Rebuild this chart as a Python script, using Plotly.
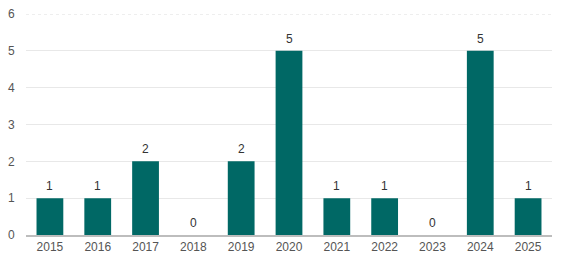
import plotly.graph_objects as go

years = ["2015", "2016", "2017", "2018", "2019", "2020", "2021", "2022", "2023", "2024", "2025"]
counts = [1, 1, 2, 0, 2, 5, 1, 1, 0, 5, 1]
y_ticks = [0, 1, 2, 3, 4, 5, 6]

bar_color = "#006865"
font_family = "Liberation Sans, Arial, sans-serif"

fig = go.Figure(go.Bar(
    x=years, y=counts,
    marker=dict(color=bar_color, line=dict(width=0)),
    hoverinfo="x+y",
))

# value labels above bars (category index positions on the category axis)
for i, v in enumerate(counts):
    fig.add_annotation(
        x=i, y=v, text=str(v), showarrow=False,
        xref="x", yref="y", yanchor="bottom", yshift=3,
        font=dict(color="#333333", size=12, family=font_family),
    )

fig.update_layout(
    width=567, height=265,
    margin=dict(l=26, r=15, t=14, b=30, autoexpand=False),
    paper_bgcolor="white", plot_bgcolor="white",
    bargap=0.44,
    showlegend=False,
    font=dict(family=font_family, size=12, color="#555555"),
    xaxis=dict(
        type="category", categoryorder="array", categoryarray=years,
        range=[-0.5, len(years) - 0.5], automargin=False,
        showline=True, linecolor="#bdbdbd", linewidth=2,
        showgrid=False, ticks="",
        tickfont=dict(color="#555555", size=12),
    ),
    yaxis=dict(
        range=[0, max(y_ticks)], tickvals=y_ticks, automargin=False,
        showgrid=True, gridcolor="#e8e8e8", gridwidth=1,
        zeroline=False, ticks="outside", ticklen=8, tickcolor="rgba(0,0,0,0)",
        tickfont=dict(color="#555555", size=12),
    ),
    shapes=[dict(
        type="line", xref="paper", yref="y", x0=0, x1=1, y0=max(y_ticks), y1=max(y_ticks),
        line=dict(color="#dddddd", width=1, dash="dot"), layer="below",
    )],
)

fig.write_html(
    "out.html",
    config={"displayModeBar": False},
    post_script="document.body.style.margin='0';",
)
